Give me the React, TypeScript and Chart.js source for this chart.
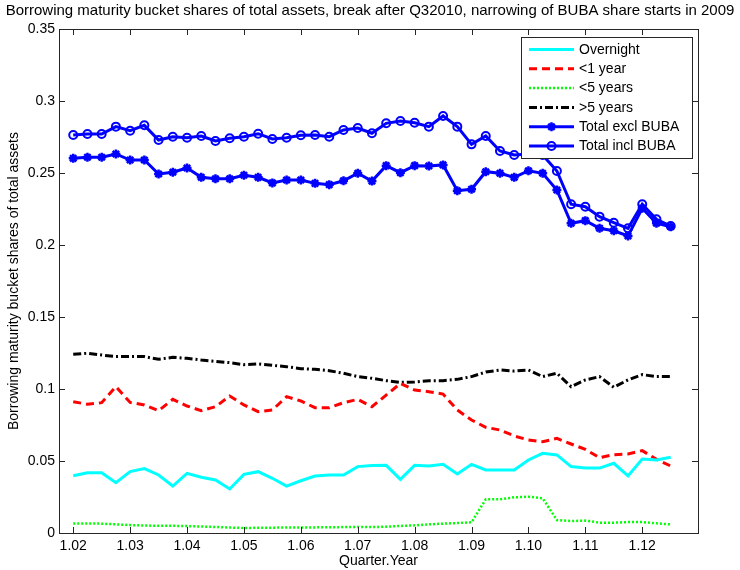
import { useEffect, useRef } from "react";
import { Chart, registerables } from "chart.js";

Chart.register(...registerables);

const FONT = "'Liberation Sans', Arial, Helvetica, sans-serif";

const titleText =
  "Borrowing maturity bucket shares of total assets, break after Q32010, narrowing of BUBA share starts in 2009";
const xTitle = "Quarter.Year";
const yTitle = "Borrowing maturity bucket shares of total assets";

const quarters = [
  1.02, 1.0225, 1.025, 1.0275, 1.03, 1.0325, 1.035, 1.0375, 1.04, 1.0425,
  1.045, 1.0475, 1.05, 1.0525, 1.055, 1.0575, 1.06, 1.0625, 1.065, 1.0675,
  1.07, 1.0725, 1.075, 1.0775, 1.08, 1.0825, 1.085, 1.0875, 1.09, 1.0925,
  1.095, 1.0975, 1.1, 1.1025, 1.105, 1.1075, 1.11, 1.1125, 1.115, 1.1175,
  1.12, 1.1225, 1.125,
];

const overnight = [
  0.0398, 0.0419, 0.0419, 0.0349, 0.0426, 0.0447, 0.0403, 0.0326, 0.0414, 0.0387,
  0.0368, 0.0306, 0.0407, 0.0426, 0.038, 0.0326, 0.0363, 0.0396, 0.0403, 0.0403,
  0.0461, 0.0468, 0.047, 0.0373, 0.047, 0.0465, 0.0477, 0.041, 0.0477, 0.0438,
  0.0438, 0.0438, 0.0507, 0.0553, 0.0542, 0.0461, 0.0451, 0.0451, 0.0484, 0.0396,
  0.0514, 0.0507, 0.0526,
];

const lessThan1 = [
  0.0912, 0.0894, 0.0905, 0.1016, 0.0907, 0.0889, 0.085, 0.0928, 0.0882, 0.085,
  0.0877, 0.0951, 0.0889, 0.0843, 0.0854, 0.0947, 0.0917, 0.087, 0.087, 0.0905,
  0.0928, 0.0877, 0.0958, 0.1039, 0.0993, 0.0981, 0.0965, 0.0854, 0.0785, 0.0734,
  0.0715, 0.0674, 0.0646, 0.0634, 0.0657, 0.0618, 0.0581, 0.0523, 0.0544, 0.0549,
  0.0572, 0.0512, 0.0465,
];

const lessThan5 = [
  0.0066, 0.0066, 0.0065, 0.006, 0.0055, 0.0052, 0.005, 0.005, 0.0048, 0.0045,
  0.0042, 0.0038, 0.0035, 0.0036, 0.0037, 0.0038, 0.0038, 0.0039, 0.004, 0.0041,
  0.0042, 0.0041, 0.0044, 0.0049, 0.0053, 0.006, 0.0065, 0.0069, 0.0074, 0.0234,
  0.0234, 0.0248, 0.0252, 0.0241, 0.009, 0.0083, 0.0086, 0.0072, 0.0072, 0.0076,
  0.0076, 0.0067, 0.006,
];

const moreThan5 = [
  0.1241, 0.1248, 0.1236, 0.1225, 0.1225, 0.1225, 0.1206, 0.122, 0.1213, 0.1201,
  0.1192, 0.1183, 0.1169, 0.1174, 0.1164, 0.1155, 0.1141, 0.1137, 0.1127, 0.1109,
  0.1086, 0.1074, 0.1058, 0.1046, 0.1049, 0.1058, 0.1058, 0.1067, 0.1086, 0.1118,
  0.1132, 0.1125, 0.1132, 0.1086, 0.111, 0.1016, 0.1063, 0.1086, 0.1012, 0.1063,
  0.11, 0.1086, 0.1086,
];

const totalExclBuba = [
  0.2602, 0.2609, 0.2609, 0.2632, 0.259, 0.259, 0.2493, 0.2505, 0.2535, 0.247,
  0.246, 0.246, 0.2484, 0.247, 0.2431, 0.2451, 0.2451, 0.2428, 0.2419, 0.2446,
  0.2498, 0.2444, 0.2551, 0.2502, 0.2551, 0.2549, 0.2556, 0.2377, 0.2387, 0.2509,
  0.2498, 0.247, 0.2516, 0.2498, 0.2382, 0.2151, 0.2169, 0.2116, 0.2099, 0.2063,
  0.2255, 0.2151, 0.2127,
];

const totalInclBuba = [
  0.2764, 0.2771, 0.2771, 0.2822, 0.2794, 0.2831, 0.2729, 0.2752, 0.2745, 0.2757,
  0.2722, 0.2741, 0.2752, 0.2773, 0.2736, 0.2745, 0.2762, 0.2764, 0.2752, 0.2799,
  0.2812, 0.2776, 0.2845, 0.2861, 0.2849, 0.2822, 0.2896, 0.2822, 0.2699, 0.2757,
  0.2653, 0.2625, 0.2632, 0.2625, 0.2514, 0.2283, 0.2266, 0.2197, 0.2155, 0.2116,
  0.2283, 0.2178, 0.2132,
];

const seriesLabels = [
  "Overnight",
  "<1 year",
  "<5 years",
  ">5 years",
  "Total excl BUBA",
  "Total incl BUBA",
];

const xTicks = [1.02, 1.03, 1.04, 1.05, 1.06, 1.07, 1.08, 1.09, 1.1, 1.11, 1.12];
const yTicks = [0, 0.05, 0.1, 0.15, 0.2, 0.25, 0.3, 0.35];

const toPoints = (ys: number[]) => quarters.map((x, i) => ({ x, y: ys[i] }));

function drawMarker(ctx: CanvasRenderingContext2D, style: string, x: number, y: number, r: number, color: string, lw: number) {
  ctx.save();
  ctx.setLineDash([]);
  ctx.strokeStyle = color;
  ctx.lineWidth = lw;
  ctx.beginPath();
  if (style === "circle") {
    ctx.arc(x, y, r, 0, Math.PI * 2);
  } else if (style === "star") {
    ctx.moveTo(x - r, y);
    ctx.lineTo(x + r, y);
    ctx.moveTo(x, y - r);
    ctx.lineTo(x, y + r);
    const d = r * Math.SQRT1_2;
    ctx.moveTo(x - d, y - d);
    ctx.lineTo(x + d, y + d);
    ctx.moveTo(x - d, y + d);
    ctx.lineTo(x + d, y - d);
  }
  ctx.stroke();
  ctx.restore();
}

const framePlugin = {
  id: "matlabFrame",
  afterDatasetsDraw(chart: any) {
    const { ctx, chartArea: a, scales } = chart;
    ctx.save();
    // title
    ctx.fillStyle = "#000000";
    ctx.font = `15px ${FONT}`;
    ctx.textAlign = "center";
    ctx.textBaseline = "middle";
    ctx.fillText(titleText, 370, 11);

    // box
    ctx.strokeStyle = "#262626";
    ctx.lineWidth = 1;
    ctx.setLineDash([]);
    ctx.strokeRect(Math.round(a.left) + 0.5, Math.round(a.top) + 0.5, Math.round(a.right - a.left), Math.round(a.bottom - a.top));
    const tl = 6;
    ctx.beginPath();
    for (const v of xTicks) {
      const px = Math.round(scales.x.getPixelForValue(v)) + 0.5;
      ctx.moveTo(px, a.bottom);
      ctx.lineTo(px, a.bottom - tl);
      ctx.moveTo(px, a.top);
      ctx.lineTo(px, a.top + tl);
    }
    for (const v of yTicks) {
      const py = Math.round(scales.y.getPixelForValue(v)) + 0.5;
      ctx.moveTo(a.left, py);
      ctx.lineTo(a.left + tl, py);
      ctx.moveTo(a.right, py);
      ctx.lineTo(a.right - tl, py);
    }
    ctx.stroke();

    // legend
    const boxRight = a.right - 6;
    const boxLeft = boxRight - 171;
    const boxTop = a.top + 8;
    const boxH = 121;
    ctx.fillStyle = "#ffffff";
    ctx.fillRect(boxLeft, boxTop, boxRight - boxLeft, boxH);
    ctx.strokeStyle = "#262626";
    ctx.lineWidth = 1;
    ctx.strokeRect(Math.round(boxLeft) + 0.5, Math.round(boxTop) + 0.5, Math.round(boxRight - boxLeft), boxH);
    ctx.font = `14px ${FONT}`;
    ctx.textBaseline = "middle";
    ctx.textAlign = "left";
    chart.data.datasets.forEach((ds: any, i: number) => {
      const cy = boxTop + 12.5 + i * 19.3;
      const x0 = boxLeft + 8;
      const x1 = boxLeft + 53;
      ctx.save();
      ctx.strokeStyle = ds.borderColor;
      ctx.lineWidth = ds.borderWidth;
      ctx.setLineDash(ds.borderDash || []);
      ctx.beginPath();
      ctx.moveTo(x0, cy);
      ctx.lineTo(x1, cy);
      ctx.stroke();
      ctx.restore();
      if (ds.pointRadius > 0) {
        drawMarker(ctx, ds.pointStyle, (x0 + x1) / 2, cy, ds.pointRadius, ds.borderColor, ds.pointBorderWidth);
      }
      ctx.fillStyle = "#000000";
      ctx.fillText(ds.label, boxLeft + 58, cy + 0.5);
    });
    ctx.restore();
  },
};

export default function App() {
  const ref = useRef<HTMLCanvasElement>(null);

  useEffect(() => {
    if (!ref.current) return;
    const base = { showLine: true, fill: false, tension: 0, pointHoverRadius: 0 };
    const chart = new Chart(ref.current, {
      type: "line",
      data: {
        datasets: [
          { ...base, label: seriesLabels[0], data: toPoints(overnight), borderColor: "#00ffff", borderWidth: 3, pointRadius: 0, pointBorderWidth: 0 },
          { ...base, label: seriesLabels[1], data: toPoints(lessThan1), borderColor: "#ff0000", borderWidth: 3, borderDash: [8, 5], pointRadius: 0, pointBorderWidth: 0 },
          { ...base, label: seriesLabels[2], data: toPoints(lessThan5), borderColor: "#00ff00", borderWidth: 2.5, borderDash: [2, 2], pointRadius: 0, pointBorderWidth: 0 },
          { ...base, label: seriesLabels[3], data: toPoints(moreThan5), borderColor: "#000000", borderWidth: 3, borderDash: [8, 3, 2, 3], pointRadius: 0, pointBorderWidth: 0 },
          { ...base, label: seriesLabels[4], data: toPoints(totalExclBuba), borderColor: "#0000ff", backgroundColor: "#0000ff", borderWidth: 3, pointStyle: "star", pointRadius: 4.5, pointBorderWidth: 2.5, pointBorderColor: "#0000ff", pointBackgroundColor: "#0000ff" },
          { ...base, label: seriesLabels[5], data: toPoints(totalInclBuba), borderColor: "#0000ff", backgroundColor: "rgba(0,0,0,0)", borderWidth: 3, pointStyle: "circle", pointRadius: 4, pointBorderWidth: 2, pointBorderColor: "#0000ff", pointBackgroundColor: "rgba(0,0,0,0)" },
        ] as any,
      },
      options: {
        responsive: false,
        animation: false,
        devicePixelRatio: 1,
        layout: { padding: { left: 0, right: 42, top: 29, bottom: 0 } },
        plugins: {
          legend: { display: false },
          tooltip: { enabled: false },
          title: { display: false },
        },
        scales: {
          x: {
            type: "linear",
            min: 1.0175,
            max: 1.1298,
            afterBuildTicks: (s: any) => {
              s.ticks = xTicks.map((v) => ({ value: v }));
            },
            afterFit: (s: any) => {
              s.height = 37;
            },
            grid: { display: false, drawTicks: false },
            border: { display: false },
            ticks: {
              color: "#000000",
              font: { family: FONT, size: 14 },
              padding: 5,
              maxRotation: 0,
              autoSkip: false,
              callback: (v: any) => Number(v).toFixed(2),
            },
            title: {
              display: true,
              text: xTitle,
              color: "#000000",
              font: { family: FONT, size: 14 },
              padding: { top: 0, bottom: 0 },
            },
          },
          y: {
            type: "linear",
            min: 0,
            max: 0.35,
            afterBuildTicks: (s: any) => {
              s.ticks = yTicks.map((v) => ({ value: v }));
            },
            afterFit: (s: any) => {
              s.width = 59;
            },
            grid: { display: false, drawTicks: false },
            border: { display: false },
            ticks: {
              color: "#000000",
              font: { family: FONT, size: 14 },
              padding: 4,
              autoSkip: false,
              callback: (v: any) => String(Number(Number(v).toFixed(2))),
            },
            title: {
              display: true,
              text: yTitle,
              color: "#000000",
              font: { family: FONT, size: 14 },
              padding: { top: 6, bottom: 0 },
            },
          },
        },
      } as any,
      plugins: [framePlugin],
    });
    return () => chart.destroy();
  }, []);

  return (
    <div style={{ position: "absolute", left: 0, top: 0, width: 740, height: 570, background: "#ffffff" }}>
      <canvas ref={ref} width={740} height={570} style={{ display: "block" }} />
    </div>
  );
}
